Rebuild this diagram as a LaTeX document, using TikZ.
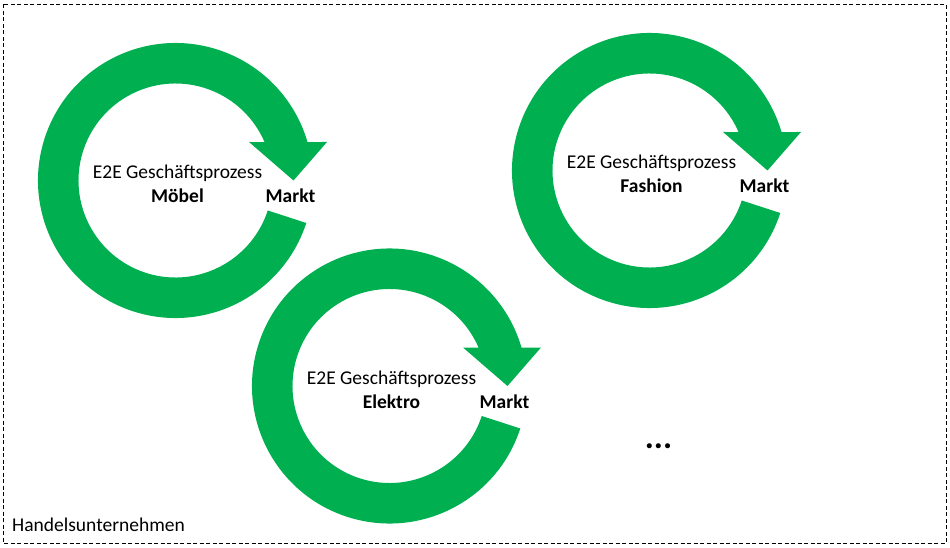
\documentclass[tikz,border=0pt]{standalone}
\usepackage{fontspec}
\setmainfont{Carlito}
\definecolor{officegreen}{HTML}{00B050}
\tikzset{
  ringfill/.style={fill=officegreen, draw=none},
  lbl/.style={inner sep=0pt, anchor=base, font=\fontsize{19.5}{23}\selectfont},
  lblb/.style={lbl, font=\fontsize{19.5}{23}\selectfont\bfseries},
  frame/.style={draw=black, line width=1pt, dash pattern=on 4pt off 2.5pt}
}
\newcommand{\ringarrow}[4]{%
  \begin{scope}[shift={#1}]
    \path[ringfill] (18:137.5) arc[start angle=18, end angle=343.74, radius=137.5]
      -- (151.5,-38.5) -- (118,0) -- (73.5,-38.5)
      -- (336.62:97) arc[start angle=336.62, end angle=18, radius=97] -- cycle;
    \node[lbl] (#2-title) at (2,-2) {E2E Geschäftsprozess};
    \node[lblb] (#2-name) at (2,22) {#3};
    \node[lblb] (#2-markt) at (115,22) {#4};
  \end{scope}}
\begin{document}
\begin{tikzpicture}[x=1pt, y=-1pt]
  \useasboundingbox (0,0) rectangle (950,548);
  \path[frame] (3.5,4.5) rectangle (946,543);
  \ringarrow{(175.5,180.5)}{moebel}{Möbel}{Markt}
  \ringarrow{(649.5,170.5)}{fashion}{Fashion}{Markt}
  \ringarrow{(389.5,386)}{elektro}{Elektro}{Markt}
  \node[lbl, anchor=base west] (company) at (12,531.5) {Handelsunternehmen};
  \node[inner sep=0pt, anchor=base, font=\fontsize{34}{38}\selectfont\bfseries] (more) at (658.5,448.5) {...};
\end{tikzpicture}
\end{document}
